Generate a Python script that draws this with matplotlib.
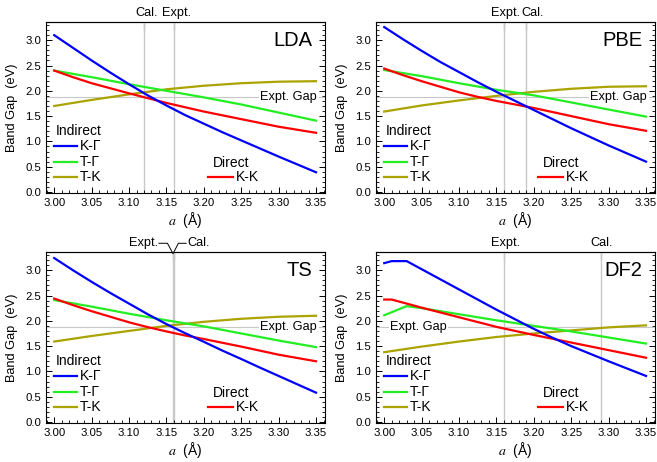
import matplotlib
matplotlib.use("Agg")
import matplotlib.pyplot as plt
from matplotlib.ticker import MultipleLocator, FormatStrFormatter

plt.rcParams['font.family'] = ['Liberation Sans', 'DejaVu Sans']
plt.rcParams['mathtext.fontset'] = 'stix'

# lattice constant grids (Å)
a_q = [3.000, 3.025, 3.050, 3.075, 3.100, 3.125, 3.150, 3.175, 3.200,
       3.225, 3.250, 3.275, 3.300, 3.325, 3.350]
a_h = [3.00, 3.05, 3.10, 3.15, 3.20, 3.25, 3.30, 3.35]

# experimental band gap (eV)
expt_gap = 1.87

# LDA
lda_kg = [3.10, 2.85, 2.60, 2.36, 2.13, 1.91, 1.71, 1.52, 1.35, 1.18, 1.02, 0.86, 0.70, 0.545, 0.39]
lda_kk = [2.40, 2.27, 2.15, 2.05, 1.95, 1.855, 1.76, 1.675, 1.59, 1.515, 1.44, 1.365, 1.29, 1.23, 1.17]
lda_tg = [2.40, 2.27, 2.13, 2.00, 1.87, 1.73, 1.57, 1.41]
lda_tk = [1.70, 1.82, 1.93, 2.03, 2.10, 2.15, 2.18, 2.19]
lda_cal, lda_expt = 3.12, 3.16

# PBE
pbe_kg = [3.26, 3.02, 2.79, 2.57, 2.37, 2.17, 1.98, 1.80, 1.62, 1.44, 1.26, 1.09, 0.92, 0.76, 0.60]
pbe_kk = [2.44, 2.31, 2.19, 2.08, 1.97, 1.88, 1.80, 1.73, 1.66, 1.58, 1.50, 1.42, 1.34, 1.275, 1.21]
pbe_tg = [2.41, 2.29, 2.15, 2.02, 1.91, 1.77, 1.63, 1.49]
pbe_tk = [1.59, 1.71, 1.81, 1.90, 1.98, 2.04, 2.08, 2.09]
pbe_cal, pbe_expt = 3.19, 3.16

# TS
ts_kg = [3.24, 3.00, 2.77, 2.55, 2.34, 2.13, 1.935, 1.755, 1.585, 1.41, 1.245, 1.075, 0.91, 0.745, 0.58]
ts_kk = [2.44, 2.31, 2.19, 2.08, 1.97, 1.875, 1.79, 1.71, 1.64, 1.565, 1.49, 1.41, 1.33, 1.265, 1.20]
ts_tg = [2.41, 2.28, 2.14, 2.01, 1.89, 1.75, 1.61, 1.48]
ts_tk = [1.59, 1.70, 1.80, 1.90, 1.98, 2.04, 2.08, 2.10]
ts_cal, ts_expt = 3.159, 3.16

# DF2
df2_a_kg = [3.00, 3.01, 3.03, 3.05, 3.075, 3.10, 3.125, 3.15, 3.175, 3.20,
            3.225, 3.25, 3.275, 3.30, 3.325, 3.35]
df2_kg = [3.14, 3.18, 3.18, 3.02, 2.82, 2.62, 2.42, 2.22, 2.03, 1.84, 1.665, 1.50, 1.35, 1.20, 1.055, 0.91]
df2_a_kk = [3.00, 3.01, 3.05, 3.10, 3.15, 3.20, 3.25, 3.30, 3.35]
df2_kk = [2.42, 2.42, 2.26, 2.07, 1.88, 1.72, 1.57, 1.42, 1.27]
df2_a_tg = [3.00, 3.03, 3.05, 3.10, 3.15, 3.20, 3.25, 3.30, 3.35]
df2_tg = [2.11, 2.29, 2.25, 2.13, 2.01, 1.90, 1.79, 1.67, 1.55]
df2_tk = [1.38, 1.49, 1.59, 1.68, 1.75, 1.81, 1.87, 1.91]
df2_cal, df2_expt = 3.29, 3.16

BLUE = '#0000ff'
GREEN = '#22ee22'
OLIVE = '#aaa300'
RED = '#ff0000'
REF = '#c8c8c8'
LW = 1.6

FS_TICK = 8.2
FS_LEG = 10
FS_TOP = 9.2
FS_GAP = 9.2

fig = plt.figure(figsize=(6.57, 4.62), dpi=100)
W, H = 657, 462


def add_axes(left_px, top_px):
    return fig.add_axes([left_px / W, 1 - (top_px + 171) / H, 279 / W, 171 / H])


def style_axes(ax, cal, expt):
    ax.set_xlim(2.989, 3.362)
    ax.set_ylim(-0.02, 3.36)
    ax.xaxis.set_major_locator(MultipleLocator(0.05))
    ax.xaxis.set_minor_locator(MultipleLocator(0.01))
    ax.yaxis.set_major_locator(MultipleLocator(0.5))
    ax.yaxis.set_minor_locator(MultipleLocator(0.1))
    ax.xaxis.set_major_formatter(FormatStrFormatter('%.2f'))
    ax.yaxis.set_major_formatter(FormatStrFormatter('%.1f'))
    ax.tick_params(which='both', direction='in', top=False, right=True,
                   labelsize=FS_TICK, colors='black')
    ax.tick_params(which='major', length=4, width=0.7, pad=3.5)
    ax.tick_params(which='minor', length=2, width=0.6)
    for s in ax.spines.values():
        s.set_linewidth(0.8)
    sec = ax.secondary_xaxis('top')
    sec.set_xticks([cal, expt])
    sec.set_xticklabels(['', ''])
    sec.tick_params(direction='in', length=6, width=0.8)
    sec.spines['top'].set_linewidth(0.8)
    ax.text(-0.122, 0.5, 'Band Gap  (eV)', transform=ax.transAxes, rotation=90,
            ha='center', va='center', fontsize=9.2)
    ax.text(0.5, -0.16, r'$a$  (Å)', transform=ax.transAxes,
            ha='center', va='center', fontsize=10)


def draw_panel(ax, name, a_kg, kg, a_kk, kk, a_tg, tg, a_tk, tk, cal, expt, gap_left):
    style_axes(ax, cal, expt)
    ax.axvline(cal, color=REF, lw=1.0, zorder=1)
    ax.axvline(expt, color=REF, lw=1.0, zorder=1)
    ax.axhline(expt_gap, color=REF, lw=0.8, zorder=1)
    ax.plot(a_tk, tk, color=OLIVE, lw=LW, zorder=3)
    ax.plot(a_tg, tg, color=GREEN, lw=LW, zorder=3)
    ax.plot(a_kk, kk, color=RED, lw=LW, zorder=3)
    ax.plot(a_kg, kg, color=BLUE, lw=LW, zorder=3)

    ax.text(0.955, 0.889, name, transform=ax.transAxes, ha='right', va='center',
            fontsize=14.5)

    bbox = dict(facecolor='white', edgecolor='none', pad=1.0)
    tr = ax.get_yaxis_transform()
    if gap_left:
        ax.text(0.05, expt_gap, 'Expt. Gap', transform=tr, ha='left', va='center',
                fontsize=FS_GAP, bbox=bbox, zorder=2)
    else:
        ax.text(0.972, expt_gap, 'Expt. Gap', transform=tr, ha='right', va='center',
                fontsize=FS_GAP, bbox=bbox, zorder=2)

    # legend: indirect gaps
    ax.text(0.118, 0.363, 'Indirect', transform=ax.transAxes, ha='center',
            va='center', fontsize=FS_LEG)
    for y, c, lab in [(0.275, BLUE, 'K-Γ'), (0.181, GREEN, 'T-Γ'), (0.094, OLIVE, 'T-K')]:
        ax.plot([0.029, 0.111], [y, y], color=c, lw=LW, transform=ax.transAxes,
                clip_on=False)
        ax.text(0.122, y, lab, transform=ax.transAxes, ha='left', va='center',
                fontsize=FS_LEG)
    # legend: direct gap
    ax.text(0.665, 0.175, 'Direct', transform=ax.transAxes, ha='center',
            va='center', fontsize=FS_LEG)
    ax.plot([0.581, 0.670], [0.094, 0.094], color=RED, lw=LW, transform=ax.transAxes)
    ax.text(0.680, 0.094, 'K-K', transform=ax.transAxes, ha='left', va='center',
            fontsize=FS_LEG)


ax1 = add_axes(46, 22)
ax2 = add_axes(376, 22)
ax3 = add_axes(46, 252)
ax4 = add_axes(376, 252)

draw_panel(ax1, 'LDA', a_q, lda_kg, a_q, lda_kk, a_h, lda_tg, a_h, lda_tk,
           lda_cal, lda_expt, False)
draw_panel(ax2, 'PBE', a_q, pbe_kg, a_q, pbe_kk, a_h, pbe_tg, a_h, pbe_tk,
           pbe_cal, pbe_expt, False)
draw_panel(ax3, 'TS', a_q, ts_kg, a_q, ts_kk, a_h, ts_tg, a_h, ts_tk,
           ts_cal, ts_expt, False)
draw_panel(ax4, 'DF2', df2_a_kg, df2_kg, df2_a_kk, df2_kk, df2_a_tg, df2_tg, a_h, df2_tk,
           df2_cal, df2_expt, True)

# labels of the reference lattice constants above each frame
ty = 1.054
for ax, items in [(ax1, [('Cal.', lda_cal + 0.003), ('Expt.', lda_expt + 0.003)]),
                  (ax2, [('Expt.', pbe_expt + 0.002), ('Cal.', pbe_cal + 0.008)]),
                  (ax4, [('Expt.', df2_expt + 0.002), ('Cal.', df2_cal)])]:
    tr = ax.get_xaxis_transform()
    for lab, x in items:
        ax.text(x, ty, lab, transform=tr, ha='center', va='center', fontsize=FS_TOP,
                clip_on=False)

# TS: coinciding values, labels pulled apart with a connector
tr3 = ax3.get_xaxis_transform()
ax3.plot([3.140, 3.1514, ts_expt - 0.0012, 3.1660, 3.1763],
         [1.051, 1.051, 0.99, 1.051, 1.051], color='black', lw=0.7,
         transform=tr3, clip_on=False)
ax3.text(3.139, 1.051, 'Expt.', transform=tr3, ha='right', va='center',
         fontsize=FS_TOP, clip_on=False)
ax3.text(3.178, 1.051, 'Cal.', transform=tr3, ha='left', va='center',
         fontsize=FS_TOP, clip_on=False)

fig.savefig('out.png', dpi=100)
